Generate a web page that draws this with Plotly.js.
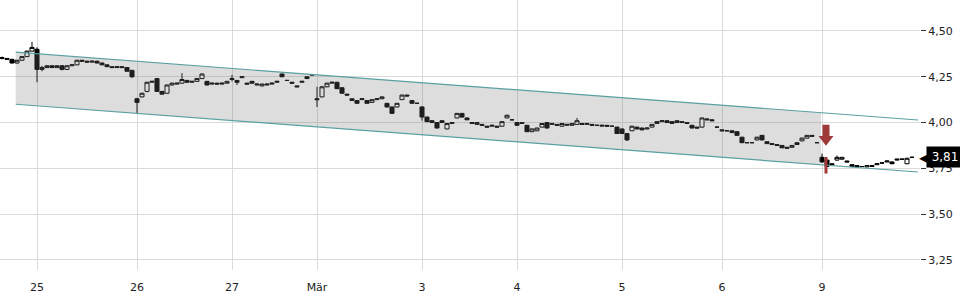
<!DOCTYPE html>
<html>
<head>
<meta charset="utf-8">
<script src="https://cdn.plot.ly/plotly-3.0.1.min.js"></script>
<style>html,body{margin:0;padding:0;background:#fff;}#chart{width:960px;height:300px;}</style>
</head>
<body>
<div id="chart"></div>
<script>
// ---- data ----
var dayLabels = ['24','25','26','27','Mär','3','4','5','6','9'];
var dayCounts = [7,20,19,17,21,19,21,20,20,19];

var openP = [
4.355,4.35,4.345,4.325,4.34,4.36,4.39,
4.40,4.29,4.30,4.31,4.30,4.31,4.29,4.31,4.315,4.34,4.335,4.33,4.335,4.325,4.315,4.305,4.30,4.305,4.30,4.285,
4.13,4.14,4.17,4.22,4.24,4.17,4.16,4.205,4.21,4.215,4.23,4.22,4.225,4.24,4.225,4.21,4.215,4.21,4.215,
4.235,4.23,4.245,4.215,4.225,4.205,4.20,4.205,4.21,4.22,4.265,4.23,4.22,4.20,4.22,4.25,4.26,
4.13,4.14,4.195,4.215,4.22,4.19,4.155,4.12,4.12,4.125,4.12,4.11,4.125,4.13,4.105,4.085,4.085,4.125,4.15,4.12,4.105,
4.085,4.03,4.01,4.00,4.01,3.965,3.995,4.025,4.05,4.025,4.00,3.99,3.99,3.98,3.98,3.98,3.98,4.025,4.015,
4.00,3.995,3.985,3.95,3.955,3.975,4.00,3.99,3.99,3.98,3.985,3.985,3.99,3.995,3.99,3.99,3.985,3.98,3.985,3.98,3.975,
3.965,3.94,3.955,3.975,3.97,3.965,3.975,3.995,4.005,4.01,4.005,4.00,4.005,4.00,3.985,3.975,3.975,4.02,4.015,3.975,
3.96,3.955,3.955,3.95,3.92,3.89,3.89,3.905,3.93,3.895,3.885,3.88,3.875,3.865,3.865,3.88,3.90,3.915,3.93,3.89,
3.81,3.795,3.775,3.795,3.80,3.79,3.77,3.765,3.76,3.758,3.76,3.77,3.778,3.785,3.785,3.795,3.80,3.775,3.81
];
var highP = [
4.36,4.352,4.348,4.342,4.362,4.392,4.44,
4.41,4.31,4.312,4.312,4.312,4.312,4.312,4.318,4.342,4.342,4.337,4.337,4.337,4.327,4.317,4.307,4.307,4.307,4.302,4.287,
4.135,4.162,4.222,4.227,4.242,4.172,4.207,4.217,4.217,4.27,4.232,4.227,4.242,4.267,4.227,4.217,4.217,4.217,4.227,
4.26,4.232,4.252,4.217,4.227,4.212,4.212,4.212,4.217,4.227,4.267,4.232,4.222,4.202,4.227,4.252,4.262,
4.195,4.20,4.217,4.222,4.222,4.192,4.157,4.132,4.122,4.132,4.122,4.127,4.132,4.142,4.107,4.087,4.107,4.152,4.152,4.122,4.107,
4.09,4.032,4.012,4.002,4.012,3.997,4.002,4.052,4.052,4.027,4.002,4.002,3.992,3.982,3.987,3.982,4.007,4.042,4.017,
4.002,4.002,3.987,3.967,3.972,3.997,4.002,3.997,3.992,3.997,3.992,3.997,4.025,3.997,3.997,3.992,3.987,3.987,3.987,3.982,3.977,
3.967,3.942,3.982,3.977,3.972,3.972,3.992,4.007,4.012,4.012,4.007,4.012,4.007,4.002,3.987,3.977,4.027,4.022,4.017,3.977,
3.962,3.957,3.957,3.952,3.922,3.892,3.892,3.922,3.932,3.897,3.887,3.882,3.877,3.867,3.877,3.892,3.917,3.932,3.932,3.892,
3.83,3.797,3.777,3.82,3.812,3.792,3.772,3.767,3.762,3.767,3.767,3.777,3.782,3.792,3.787,3.802,3.802,3.807,3.815
];
var lowP = [
4.345,4.342,4.322,4.322,4.338,4.358,4.388,
4.22,4.28,4.298,4.298,4.298,4.285,4.288,4.308,4.313,4.333,4.328,4.328,4.323,4.313,4.303,4.298,4.298,4.298,4.278,4.243,
4.05,4.138,4.165,4.218,4.168,4.153,4.158,4.203,4.208,4.213,4.218,4.218,4.223,4.238,4.203,4.208,4.208,4.208,4.213,
4.225,4.205,4.243,4.208,4.213,4.203,4.198,4.203,4.208,4.218,4.248,4.228,4.213,4.193,4.218,4.238,4.258,
4.085,4.138,4.193,4.213,4.183,4.158,4.148,4.118,4.103,4.123,4.103,4.108,4.123,4.128,4.083,4.048,4.083,4.123,4.143,4.103,4.103,
4.01,4.003,3.998,3.968,3.998,3.963,3.993,4.023,4.028,4.013,3.993,3.988,3.983,3.973,3.978,3.973,3.978,4.023,4.013,
3.983,3.993,3.948,3.948,3.953,3.973,3.968,3.988,3.983,3.978,3.983,3.983,3.988,3.988,3.988,3.983,3.983,3.978,3.978,3.978,3.938,
3.938,3.90,3.953,3.963,3.958,3.963,3.973,3.993,4.003,3.998,3.993,3.998,3.998,3.993,3.968,3.968,3.973,4.013,4.008,3.973,
3.953,3.953,3.943,3.928,3.888,3.888,3.888,3.903,3.903,3.883,3.878,3.873,3.86,3.858,3.863,3.878,3.898,3.913,3.923,3.888,
3.78,3.758,3.768,3.793,3.798,3.783,3.758,3.756,3.758,3.756,3.758,3.768,3.776,3.783,3.773,3.793,3.798,3.773,3.808
];
var closeP = [
4.35,4.345,4.325,4.34,4.36,4.39,4.41,
4.29,4.30,4.31,4.30,4.31,4.29,4.31,4.315,4.34,4.335,4.33,4.335,4.325,4.315,4.305,4.30,4.305,4.30,4.28,4.25,
4.11,4.16,4.22,4.225,4.17,4.155,4.205,4.215,4.215,4.235,4.22,4.225,4.24,4.265,4.205,4.215,4.21,4.215,4.225,
4.24,4.22,4.25,4.21,4.215,4.21,4.21,4.21,4.215,4.225,4.25,4.23,4.215,4.195,4.225,4.24,4.26,
4.125,4.195,4.215,4.22,4.185,4.16,4.15,4.13,4.105,4.13,4.105,4.125,4.13,4.14,4.085,4.05,4.105,4.15,4.145,4.105,4.105,
4.03,4.005,4.00,3.97,4.00,3.995,4.00,4.05,4.03,4.015,3.995,4.00,3.985,3.975,3.985,3.975,4.005,4.04,4.015,
3.985,4.00,3.95,3.965,3.97,3.995,3.97,3.995,3.985,3.995,3.99,3.995,4.01,3.99,3.995,3.985,3.985,3.985,3.98,3.98,3.94,
3.94,3.905,3.98,3.965,3.96,3.97,3.99,4.005,4.01,4.00,3.995,4.01,4.00,3.995,3.97,3.97,4.025,4.015,4.01,3.975,
3.955,3.955,3.945,3.93,3.89,3.89,3.89,3.92,3.905,3.885,3.88,3.875,3.862,3.86,3.875,3.89,3.915,3.93,3.925,3.89,
3.785,3.76,3.77,3.81,3.81,3.785,3.76,3.758,3.76,3.765,3.765,3.775,3.78,3.79,3.775,3.80,3.80,3.805,3.81
];

// trend channel (index position, upper, lower)
var channelX = [2.75, 163.8, 183.2];
var channelUpper = [4.384, 4.054, 4.014];
var channelLower = [4.100, 3.770, 3.730];

// event marker (index position)
var eventX = [164.8];
var eventArrowShaft = [3.988, 3.918];
var eventArrowHead = [3.909];
var eventBar = [3.812, 3.722];
var lastPrice = 3.81;

// ---- build ----
var xIdx = openP.map(function(_, i){ return i; });
var tickVals = [], tickText = [], acc = 0;
dayCounts.forEach(function(n, k){
  if (k > 0) { tickVals.push(acc); tickText.push(dayLabels[k]); }
  acc += n;
});

var teal = '#5a9fa2';
var red = '#9e3a3a';

var traces = [
  { x: channelX.slice(0,2), y: channelLower.slice(0,2), mode: 'lines', line: {width: 0}, hoverinfo: 'skip', showlegend: false },
  { x: channelX.slice(0,2), y: channelUpper.slice(0,2), mode: 'lines', line: {width: 0}, fill: 'tonexty',
    fillcolor: 'rgba(120,120,120,0.25)', hoverinfo: 'skip', showlegend: false },
  { x: channelX, y: channelUpper, mode: 'lines', line: {color: teal, width: 1.2}, hoverinfo: 'skip', showlegend: false },
  { x: channelX, y: channelLower, mode: 'lines', line: {color: teal, width: 1.2}, hoverinfo: 'skip', showlegend: false },
  { type: 'candlestick', x: xIdx, open: openP, high: highP, low: lowP, close: closeP,
    increasing: {line: {color: '#000', width: 1}, fillcolor: '#ffffff'},
    decreasing: {line: {color: '#000', width: 1}, fillcolor: '#000000'},
    whiskerwidth: 0, hoverinfo: 'skip', showlegend: false },
  { x: [eventX[0], eventX[0]], y: eventArrowShaft, mode: 'lines', line: {color: red, width: 7}, hoverinfo: 'skip', showlegend: false },
  { x: eventX, y: eventArrowHead, mode: 'markers', marker: {symbol: 'triangle-down', size: 13, color: red}, hoverinfo: 'skip', showlegend: false },
  { x: [eventX[0], eventX[0]], y: eventBar, mode: 'lines', line: {color: red, width: 3}, hoverinfo: 'skip', showlegend: false }
];

var layout = {
  width: 960, height: 300,
  margin: {l: 0, r: 40, t: 0, b: 30, pad: 0},
  paper_bgcolor: '#ffffff', plot_bgcolor: '#ffffff',
  separators: ',.',
  boxgap: 0.1, boxgroupgap: 0.1,
  font: {family: 'DejaVu Sans, sans-serif', size: 11, color: '#222'},
  showlegend: false,
  xaxis: {
    range: [-0.4, 183.6], tickmode: 'array', tickvals: tickVals, ticktext: tickText,
    showgrid: true, gridcolor: '#dadada', gridwidth: 1, zeroline: false, showline: false,
    ticks: '', ticklabelstandoff: 9, rangeslider: {visible: false}, fixedrange: true,
    tickfont: {size: 11, color: '#222'}
  },
  yaxis: {
    side: 'right', range: [3.195, 4.669], tickmode: 'linear', tick0: 3.25, dtick: 0.25,
    tickformat: '.2f', showgrid: true, gridcolor: '#dadada', gridwidth: 1, zeroline: false, showline: false,
    ticks: 'outside', ticklen: 5, tickcolor: '#333', tickfont: {size: 11, color: '#222'}, fixedrange: true
  },
  annotations: [
    { xref: 'paper', yref: 'y', x: 1, y: lastPrice, xanchor: 'left', yanchor: 'middle', xshift: -3,
      text: '◀', showarrow: false, font: {size: 16, color: '#000'} },
    { xref: 'paper', yref: 'y', x: 1, y: lastPrice, xanchor: 'left', yanchor: 'middle', xshift: 6,
      text: lastPrice.toFixed(2).replace('.', ','), showarrow: false, bgcolor: '#000', borderpad: 3,
      font: {size: 12, color: '#fff'}, width: 30 }
  ]
};

Plotly.newPlot('chart', traces, layout, {staticPlot: true, displayModeBar: false});
</script>
</body>
</html>
